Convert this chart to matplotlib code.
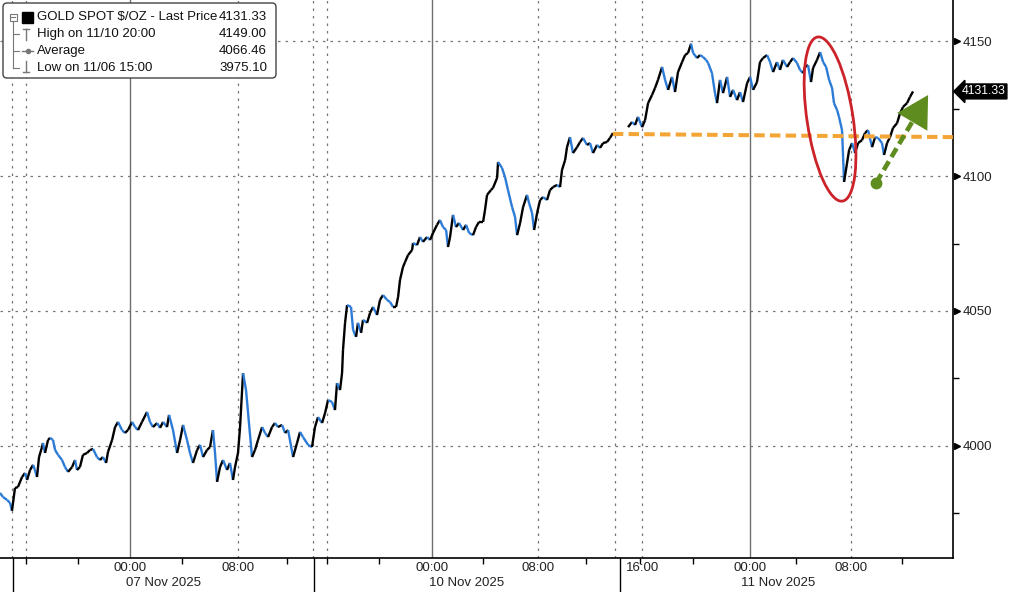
import numpy as np
import matplotlib.pyplot as plt
from matplotlib.collections import LineCollection
from matplotlib.patches import Ellipse, FancyBboxPatch, FancyArrowPatch, Rectangle
from matplotlib.lines import Line2D
from matplotlib.transforms import IdentityTransform

plt.rcParams['font.family'] = ['Liberation Sans', 'DejaVu Sans']

# x is in trading hours, 0 = 07 Nov 00:00 (weekend / daily breaks squeezed out)
# session up to the 10 Nov afternoon break
hours_a = [-9.56, -9.34, -9.04, -8.82, -8.68, -8.46, -8.24, -7.94, -7.72, -7.57,
           -7.35, -7.13, -6.99, -6.84, -6.69, -6.47, -6.40, -6.25, -6.03, -5.88,
           -5.66, -5.51, -5.29, -5.00, -4.78, -4.56, -4.26, -4.04, -3.90, -3.68,
           -3.46, -3.16, -2.94, -2.72, -2.43, -2.21, -1.99, -1.76, -1.62, -1.32,
           -1.10, -0.88, -0.59, -0.37, -0.15, 0.15, 0.37, 0.59, 0.88, 1.25,
           1.47, 1.69, 1.99, 2.21, 2.43, 2.72, 2.87, 3.16, 3.46, 3.68,
           3.90, 4.19, 4.41, 4.63, 4.93, 5.15, 5.37, 5.66, 5.88, 6.10,
           6.25, 6.40, 6.62, 6.84, 7.13, 7.35, 7.57, 7.72, 7.94, 8.09,
           8.31, 8.53, 8.68, 8.97, 9.19, 9.41, 9.71, 9.93, 10.15, 10.44,
           10.66, 10.88, 11.18, 11.40, 11.62, 11.99, 12.28, 12.50, 12.72, 13.09,
           13.38, 13.60, 13.82, 14.12, 14.34, 14.56, 14.85, 15.07, 15.22, 15.44,
           15.59, 15.66, 15.81, 15.96, 16.25, 16.40, 16.62, 16.76, 16.99, 17.13,
           17.43, 17.65, 17.87, 18.16, 18.38, 18.60, 18.90, 19.12, 19.34, 19.56,
           19.71, 19.85, 20.07, 20.22, 20.44, 20.74, 20.81, 21.10, 21.32, 21.54,
           21.84, 22.06, 22.28, 22.57, 22.79, 23.01, 23.24, 23.38, 23.53, 23.75,
           23.97, 24.19, 24.49, 24.71, 24.93, 25.22, 25.44, 25.66, 25.96, 26.10,
           26.25, 26.54, 26.69, 26.99, 27.06, 27.35, 27.57, 27.79, 28.09, 28.31,
           28.46, 28.68, 28.90, 29.19, 29.34, 29.56, 29.71, 29.93, 30.15, 30.37,
           30.66, 30.88, 31.10, 31.40, 31.62, 31.76, 31.99, 32.13, 32.35, 32.57,
           32.87, 33.09, 33.31, 33.60, 33.82, 34.04, 34.34, 34.56, 34.78, 35.07,
           35.29, 35.51]
price_a = [3982.6, 3981.1, 3980.0, 3978.9, 3976.0, 3984.4, 3984.8, 3988.5, 3990.0, 3987.4,
           3991.1, 3993.0, 3991.1, 3988.5, 3995.9, 3999.6, 4001.1, 3997.4, 4002.2, 4003.0,
           4002.2, 3998.5, 3996.7, 3994.8, 3992.2, 3990.4, 3992.2, 3994.8, 3991.1, 3992.2,
           3996.7, 3997.4, 3998.5, 3998.9, 3995.9, 3994.8, 3995.9, 3993.7, 3997.8, 4002.2,
           4007.0, 4008.9, 4005.9, 4004.8, 4005.9, 4008.9, 4007.0, 4005.9, 4008.9, 4012.6,
           4008.9, 4007.0, 4008.5, 4006.7, 4008.9, 4007.0, 4011.5, 4005.9, 3997.4, 4002.2,
           4007.8, 4002.2, 3997.4, 3993.7, 3998.5, 4000.4, 3995.9, 3998.5, 3999.6, 4005.9,
           3997.4, 3986.7, 3992.2, 3994.8, 3991.1, 3993.7, 3987.4, 3992.2, 3997.4, 4007.0,
           4027.0, 4020.7, 4012.2, 3995.9, 3998.5, 4002.2, 4007.0, 4004.8, 4003.3, 4007.0,
           4008.5, 4007.0, 4007.8, 4004.8, 4005.9, 3995.9, 4001.1, 4005.2, 4003.3, 4000.4,
           3999.6, 4007.0, 4010.7, 4008.5, 4012.2, 4017.0, 4016.3, 4013.3, 4023.3, 4020.7,
           4027.0, 4035.6, 4045.6, 4052.2, 4051.5, 4043.0, 4040.4, 4045.6, 4041.9, 4046.7,
           4045.6, 4049.3, 4051.5, 4048.5, 4054.1, 4055.9, 4054.1, 4053.3, 4051.5, 4051.5,
           4055.2, 4061.5, 4066.3, 4068.1, 4070.7, 4072.6, 4075.2, 4074.4, 4077.4, 4075.6,
           4077.4, 4076.3, 4078.9, 4081.9, 4083.7, 4081.1, 4080.0, 4073.7, 4077.4, 4085.6,
           4081.1, 4082.6, 4080.0, 4081.9, 4078.9, 4078.1, 4081.1, 4083.0, 4083.0, 4087.4,
           4093.0, 4094.8, 4095.6, 4099.3, 4105.2, 4103.0, 4099.6, 4094.8, 4088.5, 4084.8,
           4078.1, 4082.6, 4088.5, 4093.0, 4090.0, 4086.3, 4080.0, 4086.3, 4091.1, 4092.2,
           4091.1, 4094.8, 4095.9, 4096.7, 4095.9, 4102.2, 4105.9, 4110.7, 4114.4, 4108.5,
           4110.7, 4112.6, 4114.1, 4111.5, 4112.2, 4108.5, 4111.5, 4110.4, 4112.2, 4112.6,
           4114.1, 4115.9]
# session after the break, to the last print
hours_b = [36.62, 36.91, 37.13, 37.35, 37.65, 37.87, 38.09, 38.38, 38.60, 38.82,
           39.12, 39.34, 39.56, 39.85, 40.07, 40.29, 40.59, 40.81, 41.03, 41.25,
           41.40, 41.69, 41.91, 42.13, 42.35, 42.50, 42.79, 43.01, 43.16, 43.38,
           43.60, 43.90, 44.12, 44.34, 44.63, 44.85, 45.07, 45.37, 45.59, 45.81,
           46.10, 46.32, 46.54, 46.84, 47.06, 47.28, 47.57, 47.79, 48.01, 48.31,
           48.53, 48.75, 49.04, 49.26, 49.49, 49.63, 49.85, 50.07, 50.22, 50.51,
           50.74, 50.96, 51.18, 51.40, 51.62, 51.76, 51.99, 52.13, 52.35, 52.43,
           52.50, 52.72, 52.87, 53.09, 53.31, 53.53, 53.82, 54.04, 54.26, 54.56,
           54.78, 55.00, 55.29, 55.44, 55.66, 55.88, 56.10, 56.40, 56.62, 56.84,
           57.13, 57.35, 57.57]
price_b = [4118.1, 4120.0, 4118.9, 4121.9, 4118.1, 4120.7, 4127.0, 4130.0, 4132.6, 4135.6,
           4140.4, 4135.6, 4131.9, 4136.7, 4131.1, 4138.5, 4142.2, 4144.8, 4145.6, 4149.0,
           4145.6, 4143.7, 4144.8, 4144.1, 4143.0, 4141.9, 4138.1, 4130.7, 4127.0, 4135.6,
           4130.7, 4136.7, 4129.3, 4131.9, 4128.1, 4131.1, 4127.4, 4134.4, 4136.7, 4131.9,
           4134.8, 4142.2, 4143.7, 4144.8, 4142.2, 4138.5, 4142.2, 4139.3, 4143.0, 4140.4,
           4142.2, 4143.7, 4141.9, 4139.3, 4138.1, 4140.4, 4141.1, 4134.8, 4140.0, 4143.0,
           4145.9, 4142.2, 4140.4, 4135.6, 4132.6, 4127.0, 4124.4, 4121.9, 4117.0, 4107.0,
           4097.8, 4104.8, 4109.6, 4112.2, 4108.5, 4112.2, 4113.3, 4115.9, 4117.0, 4110.7,
           4114.4, 4114.1, 4112.2, 4107.8, 4112.2, 4114.4, 4117.8, 4119.6, 4123.3, 4125.6,
           4127.0, 4129.3, 4131.33]

tick_hours = [0, 7.94, 22.21, 30.0, 37.65, 45.6, 53.0]
tick_labels = ['00:00', '08:00', '00:00', '08:00', '16:00', '00:00', '08:00']
minor_hours = [-7.65, -3.82, 3.82, 11.54, 14.49, 18.31, 25.96, 33.53, 37.5, 41.4, 48.97, 56.76]
midnight_hours = [0, 22.21, 45.6]
dotted_hours = [-8.68, -7.65, 7.94, 13.46, 14.49, 30.0, 35.66, 37.65, 53.0]
day_hours = [2.43, 24.78, 47.65]
day_labels = ['07 Nov 2025', '10 Nov 2025', '11 Nov 2025']
day_breaks = [-8.6, 13.53, 36.03]

last_price = 4131.33
legend_names = ['GOLD SPOT $/OZ - Last Price', 'High on 11/10 20:00', 'Average', 'Low on 11/06 15:00']
legend_values = ['4131.33', '4149.00', '4066.46', '3975.10']

support_hours = [35.5, 60.5]
support_price = [4115.6, 4114.4]
arrow_from = (54.85, 4097.4)
arrow_to = (58.68, 4130.0)
circle_center = (51.47, 4121.1)

blue = '#2c7bd6'
red = '#cc2229'
orange = '#f3a536'
green = '#5e8c1f'

fig = plt.figure(figsize=(10.09, 5.92), dpi=100)
ax = fig.add_axes([0, 34 / 592, 953 / 1009, 558 / 592])
ax.set_xlim(-9.56, 60.51)
ax.set_ylim(3958.5, 4165.2)

for s in ['left', 'top']:
    ax.spines[s].set_visible(False)
for s in ['right', 'bottom']:
    ax.spines[s].set_linewidth(1.2)
    ax.spines[s].set_color('black')

# grid
for v in [4000, 4050, 4100, 4150]:
    ax.axhline(v, color='#777777', lw=0.9, ls=(0, (2, 4)), zorder=1)
for h in dotted_hours:
    ax.axvline(h, color='#777777', lw=0.9, ls=(0, (2, 4)), zorder=1)
for h in midnight_hours:
    ax.axvline(h, color='#707070', lw=1.0, zorder=1)

# price path: up moves black, down moves blue
for hrs, px in [(hours_a, price_a), (hours_b, price_b)]:
    pts = np.column_stack([hrs, px])
    segs = np.stack([pts[:-1], pts[1:]], axis=1)
    cols = [blue if d < 0 else 'black' for d in np.diff(px)]
    ax.add_collection(LineCollection(segs, colors=cols, linewidths=1.7, zorder=3))

# y axis on right
ax.yaxis.tick_right()
ax.set_yticks([4000, 4050, 4100, 4150])
ax.set_yticks([3975, 4025, 4075, 4125], minor=True)
ax.tick_params(axis='y', which='major', length=0, pad=7, labelsize=9.5, labelcolor='#222222')
ax.tick_params(axis='y', which='minor', length=4, width=1, direction='out')
ax.plot([1.004] * 4, [4000, 4050, 4100, 4150], ls='none', marker='>', ms=5, color='black',
        transform=ax.get_yaxis_transform(), clip_on=False)
ax.text(1.009, last_price, f'{last_price:.2f}', transform=ax.get_yaxis_transform(),
        color='white', fontsize=8.8, va='center', ha='left',
        bbox=dict(boxstyle='larrow,pad=0.12', fc='black', ec='black'))

# x axis
ax.set_xticks(tick_hours)
ax.set_xticklabels(tick_labels)
ax.set_xticks(minor_hours, minor=True)
ax.tick_params(axis='x', which='major', length=0, pad=3, labelsize=9.5, labelcolor='#222222')
ax.tick_params(axis='x', which='minor', length=4, width=1, direction='out')
xtr = ax.get_xaxis_transform()
for h, lab in zip(day_hours, day_labels):
    ax.text(h, -0.045, lab, transform=xtr, ha='center', va='center', fontsize=9.5, color='#222222')
for h in day_breaks:
    ax.plot([h, h], [0, -0.07], transform=xtr, color='black', lw=1, clip_on=False)

# annotations
ax.plot(support_hours, support_price, color=orange, lw=2.9, ls=(0, (2.6, 1.3)), zorder=4)

cx, cy = ax.transData.transform(circle_center)
fig.add_artist(Ellipse((cx, cy), width=46, height=166, angle=8.6, fill=False, ec=red, lw=2.0,
                       transform=IdentityTransform(), zorder=5))

p0 = ax.transData.transform(arrow_from)
p1 = ax.transData.transform(arrow_to)
u = (p1 - p0) / np.hypot(*(p1 - p0))
pmid = p1 - 22 * u
fig.add_artist(Line2D([p0[0], pmid[0]], [p0[1], pmid[1]], color=green, lw=3.3,
                      ls=(0, (2.2, 1.1)), transform=IdentityTransform(), zorder=5))
fig.add_artist(FancyArrowPatch(p1 - 24 * u, p1, arrowstyle='-|>,head_length=0.8,head_width=0.45',
                               mutation_scale=28, color=green, lw=0, shrinkA=0, shrinkB=0,
                               transform=IdentityTransform(), zorder=5))
ax.plot(*arrow_from, marker='o', ms=7.5, color=green, zorder=5)

# legend box, drawn in pixel units from the top-left corner
lg = fig.add_axes([0, 0, 1, 1], zorder=10)
lg.set_xlim(0, 1009)
lg.set_ylim(592, 0)
lg.axis('off')
lg.add_patch(FancyBboxPatch((3, 3), 273, 75, boxstyle='round,pad=0,rounding_size=4',
                            fc='white', ec='#444444', lw=1))
rows = [17, 34, 51, 68]
gray = '#777777'
lg.add_patch(Rectangle((9.5, 13.5), 7, 7, fill=False, ec=gray, lw=0.8))
lg.plot([11, 15], [17, 17], color=gray, lw=0.8)
lg.add_patch(Rectangle((22, 12), 11, 11, fc='black', ec='black'))
lg.plot([13, 13], [21, rows[3]], color=gray, lw=0.8)
for r in rows[1:]:
    lg.plot([13, 19], [r, r], color=gray, lw=0.8)
lg.plot([26, 26], [29, 40], color=gray, lw=1)
lg.plot([23, 29], [29, 29], color=gray, lw=1)
lg.plot([22, 33], [51, 51], color=gray, lw=1)
lg.plot(27.5, 51, marker='o', ms=3, color=gray)
lg.plot([26, 26], [61, 72], color=gray, lw=1)
lg.plot([23, 29], [72, 72], color=gray, lw=1)
for r, name, val in zip(rows, legend_names, legend_values):
    lg.text(37, r, name, fontsize=9.5, va='center', ha='left', color='#111111')
    lg.text(267, r, val, fontsize=9.5, va='center', ha='right', color='#111111')

fig.savefig('out.png', dpi=100)
